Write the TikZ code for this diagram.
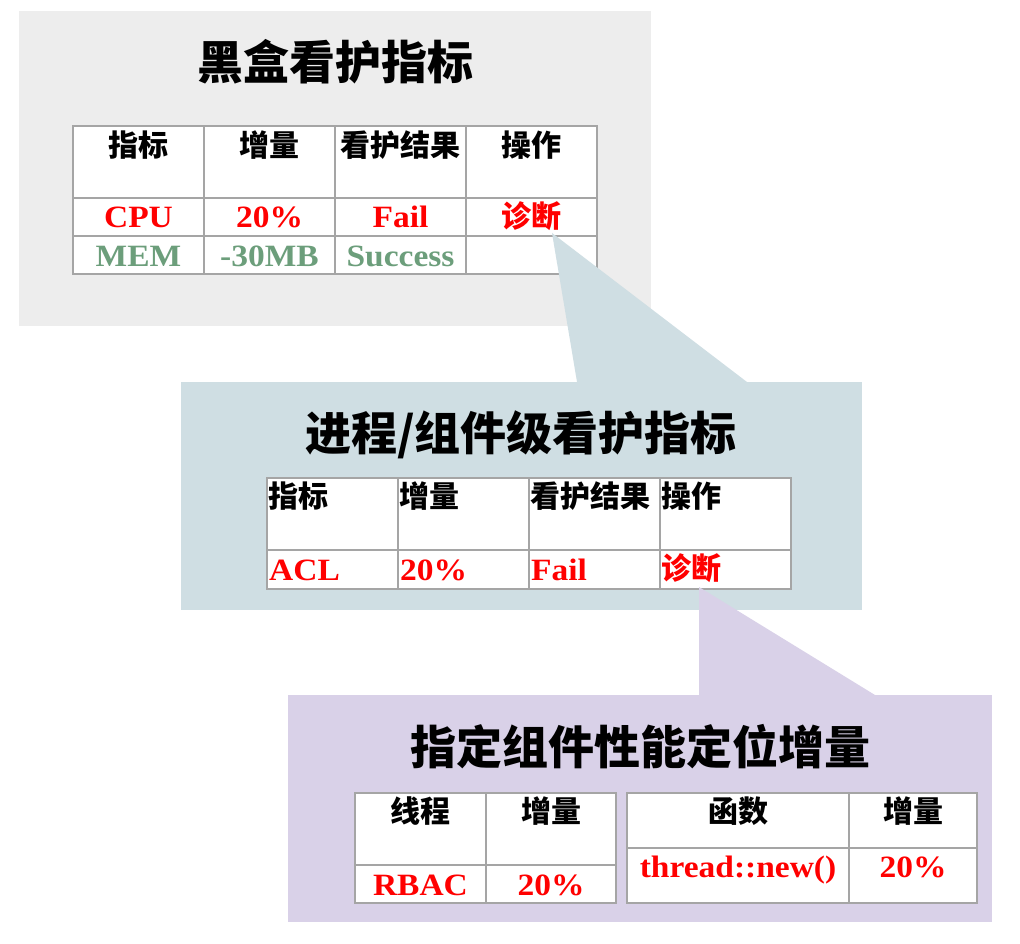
\documentclass[tikz,border=0pt]{standalone}
\usepackage{fontspec}
\setmainfont{Liberation Serif}[FakeStretch=1.08]
\newfontfamily\cjk{Noto Sans CJK SC}
\definecolor{boxgray}{HTML}{EDEDED}
\definecolor{boxblue}{HTML}{CFDEE3}
\definecolor{boxlav}{HTML}{D9D1E8}
\definecolor{gridgray}{HTML}{A5A5A5}
\definecolor{okgreen}{HTML}{6C9E7B}
\definecolor{failred}{HTML}{FF0000}
\begin{document}
\begin{tikzpicture}[x=1pt,y=-1pt,
  titletext/.style={font=\cjk\bfseries\fontsize{46}{50}\selectfont, inner sep=0pt},
  hdr/.style={font=\cjk\bfseries\fontsize{30}{34}\selectfont, inner sep=0pt},
  hdrred/.style={hdr, text=failred},
  lat/.style={font=\bfseries\fontsize{31}{34}\selectfont, inner sep=0pt, anchor=base},
  latred/.style={lat, text=failred},
  latgreen/.style={lat, text=okgreen},
  gridline/.style={draw=gridgray, line width=2.5pt},
  tablebg/.style={fill=white}
]
\useasboundingbox (0,0) rectangle (1020,944);

% ---------- box 1 ----------
\fill[boxgray] (19,11) rectangle (651,326);
\node[titletext] (t1) at (335,62) {黑盒看护指标};
\fill[tablebg] (73,126) rectangle (597,274);
\draw[gridline] (73,126) rectangle (597,274);
\foreach \x in {204,335,466} \draw[gridline] (\x,126) -- (\x,274);
\foreach \y in {198,236} \draw[gridline] (73,\y) -- (597,\y);
\node[hdr] (a11) at (138.5,145) {指标};
\node[hdr] (a12) at (269.5,145) {增量};
\node[hdr] (a13) at (400.5,145) {看护结果};
\node[hdr] (a14) at (531.5,145) {操作};
\node[latred] (a21) at (138.5,228) {CPU};
\node[latred] (a22) at (269.5,228) {20\%};
\node[latred] (a23) at (400.5,228) {Fail};
\node[hdrred] (a24) at (531.5,216) {诊断};
\node[latgreen] (a31) at (138.5,266) {MEM};
\node[latgreen] (a32) at (269.5,266) {-30MB};
\node[latgreen] (a33) at (400.5,266) {Success};

% callout 1
\fill[boxblue] (552,233) -- (577,382) -- (747,382) -- cycle;

% ---------- box 2 ----------
\fill[boxblue] (181,382) rectangle (862,610);
\node[titletext] (t2) at (521,435) {进程/组件级看护指标};
\fill[tablebg] (267,478) rectangle (791,589);
\draw[gridline] (267,478) rectangle (791,589);
\foreach \x in {398,529,660} \draw[gridline] (\x,478) -- (\x,589);
\draw[gridline] (267,550) -- (791,550);
\node[hdr, anchor=west] (b11) at (268,496) {指标};
\node[hdr, anchor=west] (b12) at (399,496) {增量};
\node[hdr, anchor=west] (b13) at (530,496) {看护结果};
\node[hdr, anchor=west] (b14) at (661,496) {操作};
\node[latred, anchor=base west] (b21) at (269,580) {ACL};
\node[latred, anchor=base west] (b22) at (400,580) {20\%};
\node[latred, anchor=base west] (b23) at (531,580) {Fail};
\node[hdrred, anchor=west] (b24) at (661,568) {诊断};

% callout 2
\fill[boxlav] (699,587) -- (699,695) -- (875,695) -- cycle;

% ---------- box 3 ----------
\fill[boxlav] (288,695) rectangle (992,922);
\node[titletext] (t3) at (640,747) {指定组件性能定位增量};
% table 3a
\fill[tablebg] (355,793) rectangle (616,903);
\draw[gridline] (355,793) rectangle (616,903);
\draw[gridline] (486,793) -- (486,903);
\draw[gridline] (355,865) -- (616,865);
\node[hdr] (c11) at (420.5,811) {线程};
\node[hdr] (c12) at (551,811) {增量};
\node[latred] (c21) at (420.5,895) {RBAC};
\node[latred] (c22) at (551,895) {20\%};
% table 3b
\fill[tablebg] (627,793) rectangle (977,903);
\draw[gridline] (627,793) rectangle (977,903);
\draw[gridline] (849,793) -- (849,903);
\draw[gridline] (627,848) -- (977,848);
\node[hdr] (d11) at (738,811) {函数};
\node[hdr] (d12) at (913,811) {增量};
\node[latred] (d21) at (738,877) {thread::new()};
\node[latred] (d22) at (913,877) {20\%};
\end{tikzpicture}
\end{document}
